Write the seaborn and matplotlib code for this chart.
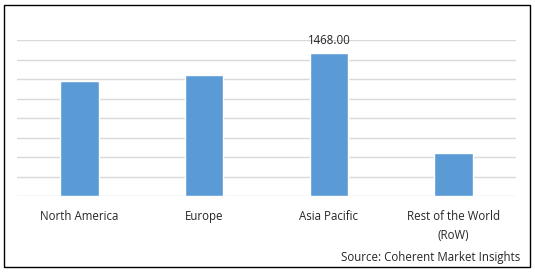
import matplotlib
matplotlib.use("Agg")
import matplotlib.pyplot as plt
import seaborn as sns
import pandas as pd
from matplotlib.patches import Rectangle

regions = ["North America", "Europe", "Asia Pacific", "Rest of the World\n(RoW)"]
values = [1180, 1241, 1468, 441]
labels_shown = [None, None, "1468.00", None]

sns.set_theme(style="white")
plt.rcParams['font.family'] = ['Open Sans', 'DejaVu Sans']

df = pd.DataFrame({"region": regions, "value": values})

fig = plt.figure(figsize=(5.35, 2.72), dpi=100)
ax = fig.add_axes([17/535, 1 - 196/272, 499/535, 156/272])
sns.barplot(data=df, x="region", y="value", color="#5b9bd5", width=0.31,
            saturation=1, ax=ax, zorder=3)
ax.set_ylim(0, 1600)
ax.set_xlim(-0.5, 3.5)
ax.set_yticks(range(0, 1601, 200))
ax.yaxis.grid(True, color="#d9d9d9", linewidth=1, zorder=0)
ax.set_yticklabels([])
ax.tick_params(axis="y", length=0)
ax.tick_params(axis="x", length=0, labelsize=8.3, colors="#262626", pad=10)
for t in ax.get_xticklabels():
    t.set_linespacing(1.6)
ax.set_xlabel("")
ax.set_ylabel("")
for s in ax.spines.values():
    s.set_visible(False)

for i, (v, lab) in enumerate(zip(values, labels_shown)):
    if lab:
        ax.text(i, v + 60, lab, ha="center", va="bottom", fontsize=8.3, color="#262626")

fig.text(520/535, 1 - 258/272, "Source: Coherent Market Insights", ha="right", va="center",
         fontsize=8.3, color="#262626")
fig.patches.append(Rectangle((4/535, 5/272), 526/535, 262/272, transform=fig.transFigure,
                             fill=False, edgecolor="black", linewidth=1))

fig.savefig("out.png", dpi=100)
